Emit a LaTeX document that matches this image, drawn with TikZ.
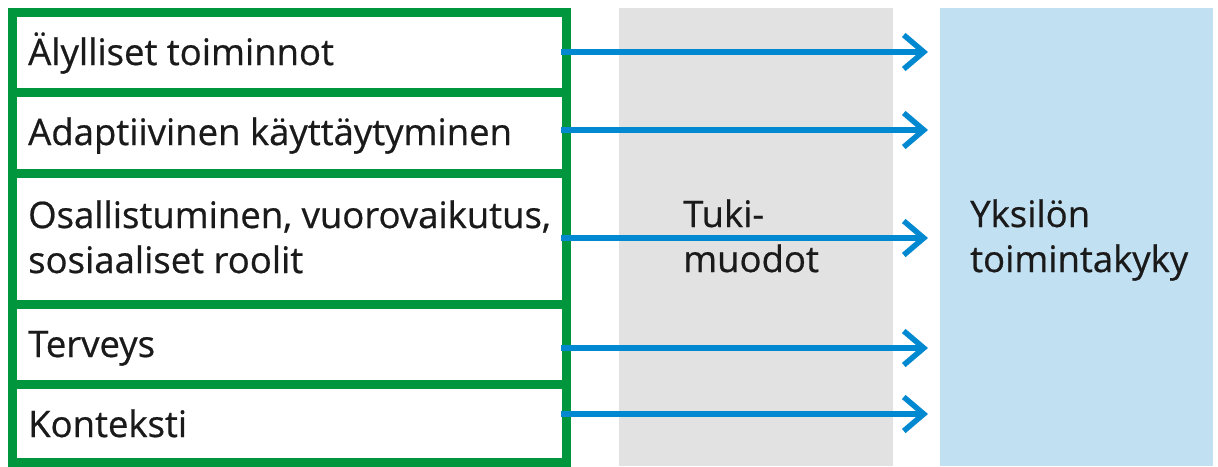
\documentclass[tikz,border=0pt]{standalone}
\usepackage{fontspec}
\setmainfont{Open Sans}
\newfontfamily\lblfont{Open Sans}[FakeBold=0.6]
\usetikzlibrary{arrows.meta}
\definecolor{boxgreen}{RGB}{0,150,62}
\definecolor{arrowblue}{RGB}{0,136,208}
\definecolor{bandgray}{RGB}{226,226,226}
\definecolor{bandblue}{RGB}{193,225,243}
\definecolor{ink}{RGB}{26,26,26}
\begin{document}
\begin{tikzpicture}[x=1pt,y=-1pt,
  band/.style={draw=none,inner sep=0pt,outer sep=0pt,anchor=north west},
  gbox/.style={draw=boxgreen,fill=white,line width=9pt,inner sep=0pt,outer sep=0pt,anchor=north west},
  lbl/.style={anchor=base west,inner sep=0pt,text=ink,font=\lblfont\fontsize{36.5}{45}\selectfont,align=left},
  arr/.style={draw=arrowblue,line width=5.5pt,-{Straight Barb[length=20pt,width=34pt,line width=5.5pt]}}]
\useasboundingbox (0,0) rectangle (1218,466);
% bands
\node[band,fill=bandgray,minimum width=274pt,minimum height=458pt] (gray) at (619,8) {};
\node[band,fill=bandblue,minimum width=273pt,minimum height=458pt] (blue) at (940,8) {};
% green boxes
\node[gbox,minimum width=554.5pt,minimum height=80pt] (b1) at (12,12) {};
\node[gbox,minimum width=554.5pt,minimum height=81pt] (b2) at (12,92) {};
\node[gbox,minimum width=554.5pt,minimum height=131pt] (b3) at (12,173) {};
\node[gbox,minimum width=554.5pt,minimum height=80pt] (b4) at (12,304) {};
\node[gbox,minimum width=554.5pt,minimum height=78pt] (b5) at (12,384) {};
% labels
\node[lbl] (t1) at (28,65) {Älylliset toiminnot};
\node[lbl] (t2) at (28,145) {Adaptiivinen käyttäytyminen};
\node[lbl] (t3) at (28,273) {Osallistuminen, vuorovaikutus,\\sosiaaliset roolit};
\node[lbl] (t4) at (28,357) {Terveys};
\node[lbl] (t5) at (28,437) {Konteksti};
\node[lbl] (tuki) at (683,272) {Tuki-\\muodot};
\node[lbl] (yks) at (970,272) {Yksilön\\toimintakyky};
% arrow tips
\coordinate (e1) at (928,52);
\coordinate (e2) at (928,130);
\coordinate (e3) at (928,238);
\coordinate (e4) at (928,348);
\coordinate (e5) at (928,414);
\draw[arr] ([xshift=-5.5pt]b1.east |- e1) -- (e1);
\draw[arr] ([xshift=-5.5pt]b2.east |- e2) -- (e2);
\draw[arr] ([xshift=-5.5pt]b3.east |- e3) -- (e3);
\draw[arr] ([xshift=-5.5pt]b4.east |- e4) -- (e4);
\draw[arr] ([xshift=-5.5pt]b5.east |- e5) -- (e5);
\end{tikzpicture}
\end{document}
